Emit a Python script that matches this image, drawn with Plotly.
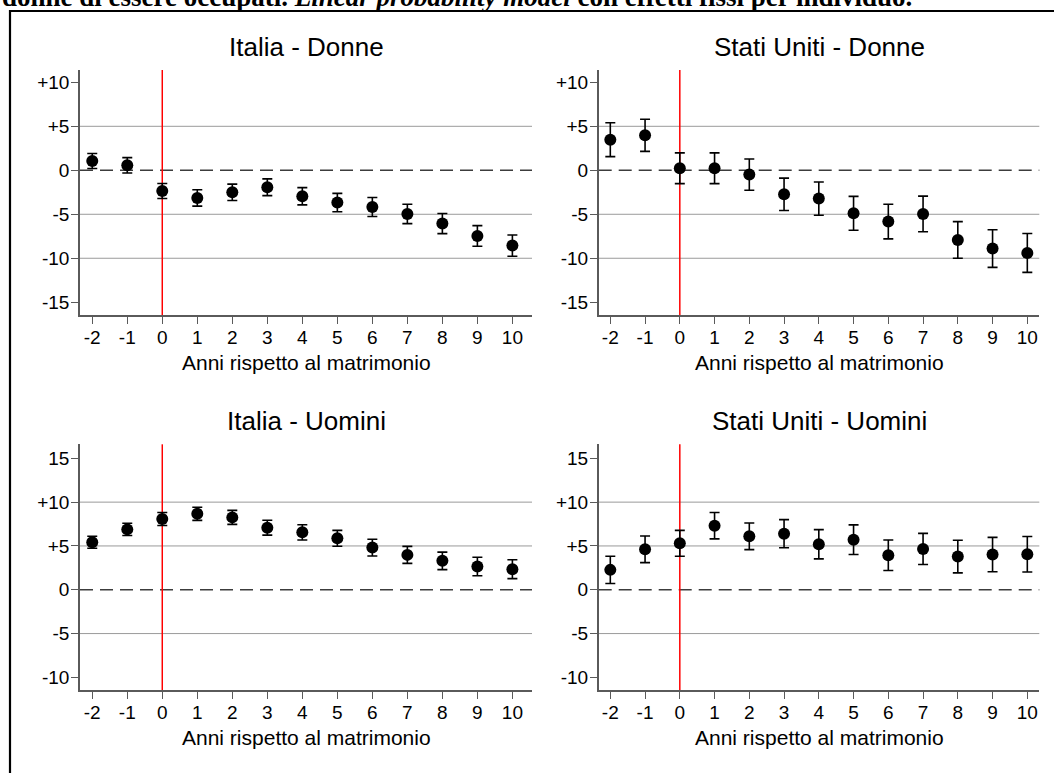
import plotly.graph_objects as go

W, H = 1054, 773

years = [-2, -1, 0, 1, 2, 3, 4, 5, 6, 7, 8, 9, 10]
x_ticklabels = ["-2", "-1", "0", "1", "2", "3", "4", "5", "6", "7", "8", "9", "10"]

titles = ["Italia - Donne", "Stati Uniti - Donne", "Italia - Uomini", "Stati Uniti - Uomini"]
x_title = "Anni rispetto al matrimonio"

it_donne_est = [1.06, 0.57, -2.35, -3.14, -2.50, -1.93, -2.95, -3.67, -4.17, -4.96, -6.06, -7.46, -8.56]
it_donne_ci = [0.85, 0.87, 0.85, 0.93, 0.93, 0.95, 0.98, 1.04, 1.08, 1.10, 1.14, 1.17, 1.21]
us_donne_est = [3.48, 3.98, 0.23, 0.23, -0.49, -2.73, -3.22, -4.89, -5.83, -4.96, -7.92, -8.90, -9.39]
us_donne_ci = [1.93, 1.83, 1.75, 1.75, 1.78, 1.84, 1.89, 1.93, 1.97, 2.02, 2.08, 2.14, 2.21]
it_uomini_est = [5.42, 6.89, 8.07, 8.67, 8.26, 7.08, 6.55, 5.87, 4.81, 3.98, 3.30, 2.65, 2.35]
it_uomini_ci = [0.69, 0.70, 0.74, 0.75, 0.80, 0.85, 0.87, 0.91, 0.95, 0.97, 1.00, 1.06, 1.08]
us_uomini_est = [2.27, 4.62, 5.30, 7.31, 6.10, 6.40, 5.19, 5.72, 3.94, 4.66, 3.79, 4.02, 4.05]
us_uomini_ci = [1.56, 1.52, 1.48, 1.50, 1.52, 1.60, 1.67, 1.69, 1.74, 1.78, 1.86, 1.96, 2.02]

top_yvals = [10, 5, 0, -5, -10, -15]
top_ytext = ["+10", "+5", "0", "-5", "-10", "-15"]
top_grid = [5, -5, -10]
bot_yvals = [15, 10, 5, 0, -5, -10]
bot_ytext = ["15", "+10", "+5", "0", "-5", "-10"]
bot_grid = [10, 5, -5]

header = ("<b>donne di essere occupati. <i>Linear probability model</i> "
          "con effetti fissi per individuo.</b>")

FONT = "Liberation Sans, Arial, Helvetica, sans-serif"

# panel geometry in pixels: (left, right, top, bottom)
panels = [
    (80, 532, 70, 315, [-2.35, 10.56], [-16.45, 11.4]),
    (598.7, 1039.3, 70, 315, [-2.334, 10.345], [-16.45, 11.4]),
    (80, 532, 444.3, 690, [-2.35, 10.56], [-11.44, 16.6]),
    (598.7, 1039.3, 444.3, 690, [-2.334, 10.345], [-11.44, 16.6]),
]
series = [(it_donne_est, it_donne_ci), (us_donne_est, us_donne_ci),
          (it_uomini_est, it_uomini_ci), (us_uomini_est, us_uomini_ci)]
yticks = [(top_yvals, top_ytext, top_grid), (top_yvals, top_ytext, top_grid),
          (bot_yvals, bot_ytext, bot_grid), (bot_yvals, bot_ytext, bot_grid)]

fig = go.Figure()
shapes = []
annotations = []

for i, ((l, r, t, b, xr, yr), (est, ci), (yv, yt, grid)) in enumerate(zip(panels, series, yticks)):
    n = "" if i == 0 else str(i + 1)
    xa, ya = "x" + n, "y" + n
    fig.add_trace(go.Scatter(
        x=years, y=est, xaxis=xa, yaxis=ya, mode="markers",
        marker=dict(color="black", size=12),
        error_y=dict(type="data", array=ci, visible=True, color="black",
                     thickness=1.6, width=5),
        showlegend=False, hoverinfo="skip", cliponaxis=False))
    axis_common = dict(showline=True, linecolor="#5a5a5a", linewidth=1.5,
                       ticks="outside", ticklen=7, tickwidth=1.2, tickcolor="#5a5a5a",
                       showgrid=False, zeroline=False, fixedrange=True,
                       tickfont=dict(family=FONT, size=19, color="black"))
    fig.update_layout({
        "xaxis" + n: dict(domain=[l / W, r / W], range=xr, anchor=ya,
                          tickvals=years, ticktext=x_ticklabels,
                          ticklabelstandoff=-3, **axis_common),
        "yaxis" + n: dict(domain=[1 - b / H, 1 - t / H], range=yr, anchor=xa,
                          tickvals=yv, ticktext=yt,
                          ticklabelstandoff=-2, **axis_common),
    })
    for g in grid:
        shapes.append(dict(type="line", xref=xa + " domain", yref=ya, x0=0, x1=1,
                           y0=g, y1=g, line=dict(color="#9a9a9a", width=1), layer="below"))
    shapes.append(dict(type="line", xref=xa + " domain", yref=ya, x0=0, x1=1,
                       y0=0, y1=0, line=dict(color="#3c3c3c", width=1.6, dash="13px,7px"),
                       layer="below"))
    shapes.append(dict(type="line", xref=xa, yref=ya + " domain", x0=0, x1=0,
                       y0=0, y1=1, line=dict(color="#ff0000", width=1.5), layer="below"))
    cx = (l + r) / 2 / W
    annotations.append(dict(text=titles[i], x=cx, y=1 - (t - 23) / H, xref="paper", yref="paper",
                            xanchor="center", yanchor="middle", showarrow=False,
                            font=dict(family=FONT, size=26, color="black")))
    annotations.append(dict(text=x_title, x=cx, y=1 - (b + 47) / H, xref="paper", yref="paper",
                            xanchor="center", yanchor="middle", showarrow=False,
                            font=dict(family=FONT, size=21, color="black")))

# outer frame
shapes.append(dict(type="rect", xref="paper", yref="paper", x0=10 / W, x1=1.02,
                   y0=-0.02, y1=1 - 11 / H, line=dict(color="black", width=2.2),
                   fillcolor="rgba(0,0,0,0)", layer="above"))
annotations.append(dict(text=header, x=0, y=1 + 3 / H, xref="paper", yref="paper",
                        xanchor="left", yanchor="middle", showarrow=False,
                        font=dict(family="Liberation Serif, Times New Roman, serif",
                                  size=27, color="black")))

fig.update_layout(width=W, height=H, margin=dict(l=0, r=0, t=0, b=0),
                  paper_bgcolor="white", plot_bgcolor="white",
                  shapes=shapes, annotations=annotations)

fig.write_html("out.html")
